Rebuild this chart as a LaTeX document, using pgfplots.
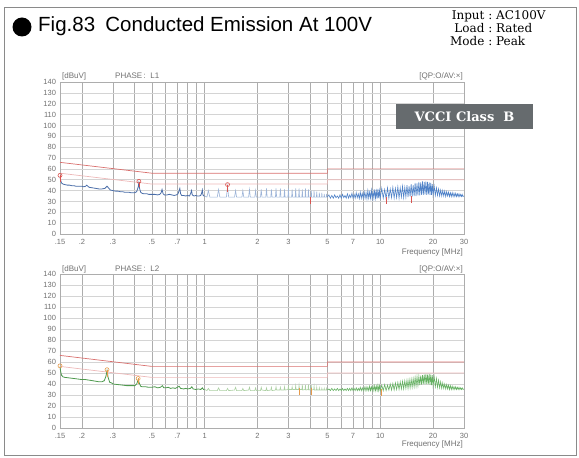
\documentclass[border=0pt]{standalone}
\usepackage{pgfplots}
\pgfplotsset{compat=1.18}
\usepackage{pgfplotstable}
\usepackage{fontspec}
\setmainfont{Liberation Sans}
\newfontfamily\headserif{DejaVu Serif}

\definecolor{framegray}{HTML}{8A8A8A}
\definecolor{gridv}{HTML}{ADADAD}
\definecolor{gridh}{HTML}{D4D4D4}
\definecolor{tickgray}{HTML}{707070}
\definecolor{trbl}{HTML}{4A6DA8}
\definecolor{trbllt}{HTML}{9DB4D8}
\definecolor{trbl2}{HTML}{4F82C8}
\definecolor{trgr}{HTML}{4E9A4E}
\definecolor{trgrlt}{HTML}{ABCFA2}
\definecolor{trgr2}{HTML}{66B263}
\definecolor{qpline}{HTML}{D9706E}
\definecolor{avline}{HTML}{EDB8B8}
\definecolor{mkred}{HTML}{D9534F}
\definecolor{mkor}{HTML}{E69A4A}
\definecolor{boxgray}{HTML}{666B6E}

% limit lines (VCCI class B)
\pgfplotstableread{
f dB
0.15 66
0.5 56
5 56
5 60
30 60
}\qplimit
\pgfplotstableread{
f dB
0.15 56
0.5 46
5 46
5 50
30 50
}\avlimit

% L1, 0.15 - 1 MHz
\pgfplotstableread{
f dB
0.150 53
0.151 50
0.153 47
0.156 46
0.160 45.5
0.165 45
0.170 45
0.175 44.5
0.180 44.5
0.185 44
0.190 44
0.195 44
0.200 44
0.205 43.5
0.210 44
0.213 45
0.216 44
0.220 43
0.230 42.5
0.240 42
0.250 41.5
0.260 41.5
0.270 42
0.278 44
0.285 42
0.290 40.5
0.300 40
0.310 39.5
0.320 39.5
0.330 39
0.340 39
0.350 38.5
0.360 38.5
0.370 38.5
0.380 38
0.390 38
0.400 38
0.410 39
0.418 43
0.422 47
0.426 42
0.432 38.5
0.440 37.5
0.450 37
0.460 37
0.470 37
0.480 36.5
0.500 36.5
0.520 36.5
0.540 36
0.555 36.5
0.565 38
0.572 41
0.580 37
0.590 36
0.610 36
0.630 36.5
0.650 36
0.670 35.5
0.690 36
0.705 37
0.715 40
0.722 42
0.730 37
0.740 35.5
0.760 35.5
0.780 35
0.800 35.5
0.820 35
0.835 38
0.842 40
0.850 36
0.870 35
0.890 35.5
0.910 35
0.930 35
0.950 35.5
0.962 38
0.970 40.5
0.978 36
0.990 35
1.000 35
}\Lalow

% L1, 1 - 5 MHz
\pgfplotstableread{
f dB
1.00 35
1.03 34
1.05 40
1.07 34
1.18 34
1.20 41
1.22 34
1.33 34
1.35 44
1.37 34
1.48 34
1.50 40
1.52 34
1.63 34
1.65 40
1.67 34
1.78 34
1.80 41
1.82 34
1.93 34
1.95 40
1.97 34
2.08 34
2.10 41
2.12 34
2.23 34
2.25 42
2.27 34
2.38 34
2.40 41
2.42 34
2.53 34
2.55 42
2.57 34
2.68 34
2.70 42
2.72 34
2.83 34
2.85 41
2.87 34
2.98 34
3.00 42
3.02 34
3.13 34
3.15 41
3.17 34
3.28 34
3.30 42
3.32 34
3.43 34
3.45 42
3.47 34
3.58 34
3.60 41
3.62 34
3.73 34
3.75 42
3.77 34
3.88 34
3.90 41
3.92 34
4.03 34
4.05 40
4.07 34
4.18 34
4.20 40
4.22 34
4.33 34
4.35 39
4.37 34
4.48 34
4.50 38
4.52 34
4.63 34
4.65 38
4.67 34
4.78 34
4.80 37
4.82 34
4.93 34
4.95 37
4.97 34
5.00 34
}\Lamid

% L1, 5 - 30 MHz
\pgfplotstableread{
f dB
5.0 34
5.1 36
5.2 33
5.3 35.5
5.4 33
5.5 36
5.6 33.5
5.7 35
5.8 33
5.9 36
6.0 33
6.1 36.5
6.2 33.5
6.3 35.5
6.4 33
6.5 37
6.6 33
6.7 36
6.8 33.5
6.9 37.5
7.0 33
7.1 36.5
7.2 33
7.3 38
7.4 33.5
7.5 37
7.6 32.5
7.7 38.5
7.8 33
7.9 37.5
8.0 33
8.1 39
8.2 33
8.3 38
8.4 32.5
8.5 40
8.6 33
8.7 38.5
8.8 33
8.9 40.5
9.0 32.5
9.1 39
9.2 33
9.3 41
9.4 33
9.5 39.5
9.6 32.5
9.7 41.5
9.8 33
9.9 40
10.0 33
10.2 42
10.4 33
10.6 41
10.8 32.5
11.0 42.5
11.2 33
11.4 41.5
11.6 33.5
11.8 43
12.0 33
12.2 42
12.4 33.5
12.6 43.5
12.8 33
13.0 42.5
13.2 34
13.4 44
13.6 33.5
13.8 43
14.0 34
14.2 45
14.4 34
14.6 44
14.8 34.5
15.0 46
15.2 34.5
15.4 45
15.6 35
15.8 47
16.0 35
16.2 46.5
16.4 35.5
16.6 48
16.8 35.5
17.0 47.5
17.2 36
17.4 48.5
17.6 36
17.8 48
18.0 36.5
18.2 48.5
18.4 36
18.6 48
18.8 36.5
19.0 47.5
19.2 36
19.4 47
19.6 36
19.8 46
20.0 36
20.3 44
20.6 35.5
20.9 42.5
21.2 35.5
21.5 41.5
21.8 35
22.1 40.5
22.4 35
22.7 40
23.0 35
23.3 39.5
23.6 34.5
23.9 39
24.2 35
24.5 38.5
24.8 34.5
25.1 38
25.4 34.5
25.7 38
26.0 34.5
26.3 37.5
26.6 34.5
26.9 37.5
27.2 34.5
27.5 37
27.8 34.5
28.1 37
28.4 34.5
28.7 36.5
29.0 34.5
29.3 36.5
29.6 34.5
30.0 35
}\Lahigh

% L2, 0.15 - 1 MHz
\pgfplotstableread{
f dB
0.150 56
0.151 52
0.153 48
0.156 46.5
0.160 46
0.170 45.5
0.180 45
0.190 44.5
0.200 44
0.210 44
0.220 43.5
0.230 43
0.240 42.5
0.250 42
0.260 42
0.268 43
0.274 47
0.278 52
0.282 46
0.288 41.5
0.295 41
0.300 40
0.320 39.5
0.340 39
0.360 38.5
0.380 38.5
0.400 38.5
0.410 40
0.418 44
0.424 41
0.432 38
0.440 37.5
0.460 37.5
0.480 37
0.500 37
0.520 37.5
0.540 36.5
0.560 37
0.575 38.5
0.585 36.5
0.600 36.5
0.620 37
0.640 36
0.660 36.5
0.680 36
0.700 37
0.715 38
0.730 36
0.760 35.5
0.780 36
0.800 35.5
0.830 36
0.845 37.5
0.860 35.5
0.890 35
0.920 35.5
0.950 35
0.970 36.5
0.985 35
1.000 35
}\Lblow

% L2, 1 - 5 MHz
\pgfplotstableread{
f dB
1.00 35
1.03 34
1.05 36
1.07 34
1.18 34
1.20 36.5
1.22 34
1.33 34
1.35 36
1.37 34
1.48 34.5
1.50 37
1.52 34
1.63 34
1.65 36
1.67 34
1.78 34.5
1.80 37
1.82 34
1.93 34
1.95 36.5
1.97 34
2.08 34
2.10 37
2.12 34.5
2.23 34
2.25 36.5
2.27 34
2.38 34.5
2.40 37
2.42 34
2.53 34.5
2.55 37.5
2.57 34.5
2.68 34.5
2.70 37
2.72 34.5
2.83 34.5
2.85 37.5
2.87 34.5
2.98 35
3.00 38
3.02 35
3.13 35
3.15 37.5
3.17 35
3.28 35
3.30 38.5
3.32 35
3.43 35
3.45 39
3.47 35
3.58 35
3.60 39.5
3.62 34.5
3.73 35
3.75 39
3.77 34.5
3.88 35
3.90 39.5
3.92 34.5
4.03 35
4.05 39
4.07 34.5
4.18 35
4.20 38
4.22 34.5
4.33 34.5
4.35 37
4.37 34.5
4.48 34.5
4.50 36.5
4.52 34.5
4.63 34.5
4.65 36
4.67 34.5
4.78 34.5
4.80 36
4.82 34.5
4.93 34.5
4.95 36
4.97 34.5
5.00 34.5
}\Lbmid

% L2, 5 - 30 MHz
\pgfplotstableread{
f dB
5.0 34.5
5.1 35.5
5.2 34
5.3 36
5.4 34
5.5 35.5
5.6 34
5.7 36
5.8 34
5.9 35.5
6.0 34
6.1 36
6.2 34
6.3 35.5
6.4 34
6.5 36
6.6 34
6.7 36
6.8 34
6.9 36.5
7.0 34
7.1 36
7.2 34
7.3 36.5
7.4 34
7.5 36
7.6 34
7.7 37
7.8 34
7.9 36.5
8.0 34
8.1 37
8.2 34
8.3 37.5
8.4 34
8.5 37
8.6 34
8.7 38
8.8 34
8.9 37.5
9.0 34
9.1 38
9.2 34
9.3 38.5
9.4 34
9.5 38
9.6 34
9.7 39
9.8 34
9.9 38.5
10.0 34
10.2 39
10.4 34
10.6 39.5
10.8 34
11.0 39
11.2 34.5
11.4 40
11.6 34.5
11.8 40.5
12.0 34.5
12.2 41
12.4 35
12.6 41.5
12.8 35
13.0 42
13.2 35.5
13.4 42.5
13.6 35.5
13.8 43
14.0 36
14.2 43.5
14.4 36
14.6 44
14.8 36.5
15.0 44.5
15.2 37
15.4 45
15.6 37.5
15.8 46
16.0 38
16.2 46.5
16.4 38.5
16.6 47
16.8 39
17.0 47.5
17.2 39.5
17.4 48
17.6 40
17.8 48.5
18.0 40
18.2 49
18.4 40
18.6 48.5
18.8 40
19.0 49
19.2 39.5
19.4 48.5
19.6 39
19.8 48
20.0 38.5
20.3 46.5
20.6 37.5
20.9 45
21.2 37
21.5 43.5
21.8 36.5
22.1 42
22.4 36
22.7 41
23.0 36
23.3 40
23.6 35.5
23.9 39.5
24.2 35.5
24.5 39
24.8 35
25.1 38.5
25.4 35
25.7 38
26.0 35
26.3 37.5
26.6 35
26.9 37.5
27.2 35
27.5 37
27.8 35
28.1 37
28.4 35
28.7 36.5
29.0 35
29.3 36.5
29.6 35
30.0 35.5
}\Lbhigh

\begin{document}
\begin{tikzpicture}
\path (0pt,0pt) rectangle (579pt,458pt);
\draw[framegray, line width=0.8pt] (4pt,451pt) rectangle (576pt,3pt);

% title and conditions
\fill[black] (22pt,431pt) circle (9.5pt);
\node[anchor=base west, inner sep=0pt, font=\fontsize{20.5}{24}\selectfont] at (38pt,426pt) {Fig.83\enspace Conducted Emission At 100V};
\node[anchor=base west, inner sep=0pt, font=\headserif\fontsize{12}{11.5}\selectfont] at (450pt,438pt)
  {\begin{tabular}[t]{@{}r@{\ :\ }l@{}}Input & AC100V\\ Load & Rated\\ Mode & Peak\end{tabular}};

% ---- L1 ----
\begin{axis}[
  scale only axis, width=404pt, height=152pt,
  at={(60pt,224pt)}, anchor=south west,
  xmode=log, xmin=0.15, xmax=30, ymin=0, ymax=140,
  ytick={0,10,...,140},
  xtick={0.15,0.2,0.3,0.5,0.7,1,2,3,5,7,10,20,30},
  xticklabels={.15,.2,.3,.5,.7,1,2,3,5,7,10,20,30},
  minor xtick={0.4,0.6,0.8,0.9,4,6,8,9},
  xmajorgrids, xminorgrids, ymajorgrids,
  major x grid style={gridv, line width=0.6pt},
  minor x grid style={gridv, line width=0.6pt},
  major y grid style={gridh, line width=0.6pt},
  axis line style={gridv, line width=0.6pt},
  major tick length=0pt, minor tick length=0pt,
  ticklabel style={font=\fontsize{7.5}{8}\selectfont, text=tickgray},
  xticklabel style={yshift=-1.5pt},
  yticklabel style={xshift=-0.5pt},
  /pgf/number format/assume math mode=true,
]
\addplot[avline, line width=0.7pt] table[x=f, y=dB] {\avlimit};
\addplot[qpline, line width=0.7pt] table[x=f, y=dB] {\qplimit};
\addplot[trbl, line width=0.8pt] table[x=f, y=dB] {\Lalow};
\addplot[trbllt, line width=0.6pt] table[x=f, y=dB] {\Lamid};
\addplot[trbl2, line width=0.6pt] table[x=f, y=dB] {\Lahigh};
\addplot[mkred, line width=0.6pt, unbounded coords=jump] coordinates {
  (0.15,48) (0.15,54) (0.2,nan)
  (0.422,43) (0.422,48) (0.5,nan)
  (1.35,39) (1.35,45) (1.4,nan)
  (4.0,28) (4.0,34) (4.1,nan)
  (10.8,28) (10.8,34) (11,nan)
  (15.0,29) (15.0,35) };
\addplot[mkred, only marks, mark=o, mark size=2pt, mark options={line width=0.6pt}] coordinates {
  (0.15,54) (0.422,48.5) (1.35,45.5) };
\end{axis}

% ---- L2 ----
\begin{axis}[
  scale only axis, width=404pt, height=154pt,
  at={(60pt,30pt)}, anchor=south west,
  xmode=log, xmin=0.15, xmax=30, ymin=0, ymax=140,
  ytick={0,10,...,140},
  xtick={0.15,0.2,0.3,0.5,0.7,1,2,3,5,7,10,20,30},
  xticklabels={.15,.2,.3,.5,.7,1,2,3,5,7,10,20,30},
  minor xtick={0.4,0.6,0.8,0.9,4,6,8,9},
  xmajorgrids, xminorgrids, ymajorgrids,
  major x grid style={gridv, line width=0.6pt},
  minor x grid style={gridv, line width=0.6pt},
  major y grid style={gridh, line width=0.6pt},
  axis line style={gridv, line width=0.6pt},
  major tick length=0pt, minor tick length=0pt,
  ticklabel style={font=\fontsize{7.5}{8}\selectfont, text=tickgray},
  xticklabel style={yshift=-1.5pt},
  yticklabel style={xshift=-0.5pt},
  /pgf/number format/assume math mode=true,
]
\addplot[avline, line width=0.7pt] table[x=f, y=dB] {\avlimit};
\addplot[qpline, line width=0.7pt] table[x=f, y=dB] {\qplimit};
\addplot[trgr, line width=0.8pt] table[x=f, y=dB] {\Lblow};
\addplot[trgrlt, line width=0.6pt] table[x=f, y=dB] {\Lbmid};
\addplot[trgr2, line width=0.6pt] table[x=f, y=dB] {\Lbhigh};
\addplot[mkor, line width=0.6pt, unbounded coords=jump] coordinates {
  (0.278,46) (0.278,53) (0.3,nan)
  (0.418,40) (0.418,45) (0.5,nan)
  (3.45,30) (3.45,36) (3.5,nan)
  (4.05,30) (4.05,36) (4.1,nan)
  (10.2,29) (10.2,35) };
\addplot[mkor, only marks, mark=o, mark size=2pt, mark options={line width=0.6pt}] coordinates {
  (0.15,56.5) (0.278,53) (0.418,45) };
\end{axis}

% plot captions
\begin{scope}[font=\fontsize{8}{9}\selectfont, text=tickgray, inner sep=0pt]
\node[anchor=west] at (62pt,382pt) {[dBuV]};
\node[anchor=west] at (115pt,382pt) {PHASE\,:\ \ L1};
\node[anchor=east] at (463pt,382pt) {[QP:O/AV:×]};
\node[anchor=east] at (463pt,206pt) {Frequency\ [MHz]};
\node[anchor=west] at (62pt,189pt) {[dBuV]};
\node[anchor=west] at (115pt,189pt) {PHASE\,:\ \ L2};
\node[anchor=east] at (463pt,189pt) {[QP:O/AV:×]};
\node[anchor=east] at (463pt,14pt) {Frequency\ [MHz]};
\end{scope}

% class label
\fill[boxgray] (396pt,329pt) rectangle (533pt,354pt);
\node[text=white, font=\headserif\bfseries\fontsize{13}{14}\selectfont] at (464.5pt,341.5pt) {VCCI Class\ \ B};
\end{tikzpicture}
\end{document}
